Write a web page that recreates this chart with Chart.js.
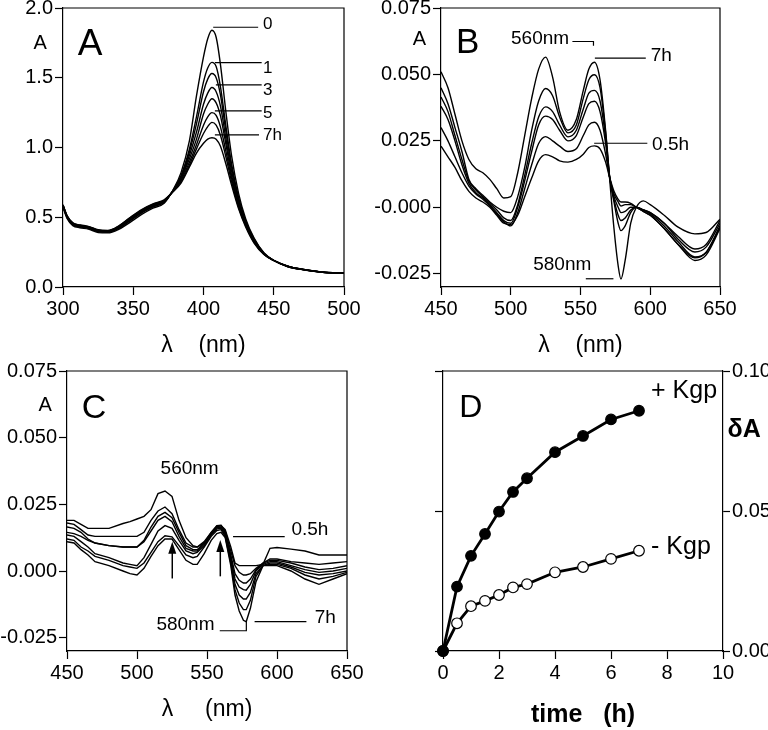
<!DOCTYPE html>
<html>
<head>
<meta charset="utf-8">
<script src="https://cdn.jsdelivr.net/npm/chart.js@4.4.1/dist/chart.umd.min.js"></script>
<style>
  html, body { margin: 0; padding: 0; background: #fff; }
  #wrap { position: relative; width: 768px; height: 730px; }
  #wrap canvas { position: absolute; left: 0; top: 0; }
</style>
</head>
<body>
<div id="wrap">
  <canvas id="panelA" width="768" height="730"></canvas>
  <canvas id="panelB" width="768" height="730"></canvas>
  <canvas id="panelC" width="768" height="730"></canvas>
  <canvas id="panelD" width="768" height="730"></canvas>
</div>
<script>
// ---- panel A : absorbance spectra, 0 .. 7 h ----
const wlA = [300, 303, 307, 312, 318, 325, 332, 340, 348, 356, 364, 372, 378, 384, 390, 395, 400, 403, 406, 409, 412, 416, 420, 425, 430, 436, 443, 450, 460, 470, 485, 500];
const specA0 = [0.57, 0.49, 0.44, 0.425, 0.415, 0.39, 0.388, 0.415, 0.465, 0.52, 0.565, 0.60, 0.69, 0.82, 1.05, 1.37, 1.65, 1.78, 1.84, 1.79, 1.60, 1.25, 0.94, 0.67, 0.49, 0.35, 0.245, 0.19, 0.145, 0.125, 0.105, 0.10];
const specA1 = [0.576, 0.496, 0.446, 0.431, 0.421, 0.396, 0.393, 0.422, 0.476, 0.531, 0.574, 0.608, 0.688, 0.80, 0.99, 1.22, 1.47, 1.57, 1.61, 1.58, 1.44, 1.15, 0.88, 0.64, 0.475, 0.345, 0.243, 0.19, 0.146, 0.126, 0.106, 0.10];
const specA2 = [0.578, 0.498, 0.448, 0.433, 0.423, 0.398, 0.395, 0.425, 0.479, 0.534, 0.577, 0.61, 0.686, 0.79, 0.97, 1.17, 1.40, 1.49, 1.53, 1.50, 1.38, 1.11, 0.86, 0.63, 0.47, 0.34, 0.241, 0.19, 0.147, 0.126, 0.106, 0.10];
const specA3 = [0.58, 0.50, 0.451, 0.435, 0.425, 0.40, 0.397, 0.428, 0.484, 0.538, 0.581, 0.613, 0.685, 0.78, 0.945, 1.11, 1.31, 1.39, 1.43, 1.40, 1.30, 1.06, 0.83, 0.615, 0.46, 0.335, 0.239, 0.19, 0.147, 0.126, 0.106, 0.10];
const specA4 = [0.583, 0.503, 0.453, 0.438, 0.428, 0.403, 0.40, 0.432, 0.49, 0.543, 0.585, 0.616, 0.684, 0.775, 0.92, 1.06, 1.24, 1.31, 1.35, 1.32, 1.23, 1.02, 0.80, 0.60, 0.455, 0.33, 0.237, 0.19, 0.148, 0.127, 0.106, 0.10];
const specA5 = [0.585, 0.505, 0.456, 0.441, 0.431, 0.406, 0.402, 0.435, 0.494, 0.548, 0.589, 0.62, 0.683, 0.765, 0.895, 1.02, 1.16, 1.22, 1.25, 1.23, 1.15, 0.97, 0.78, 0.585, 0.445, 0.325, 0.236, 0.19, 0.149, 0.127, 0.107, 0.10];
const specA6 = [0.588, 0.508, 0.458, 0.443, 0.433, 0.408, 0.404, 0.438, 0.497, 0.552, 0.592, 0.622, 0.682, 0.755, 0.875, 0.99, 1.10, 1.15, 1.18, 1.16, 1.09, 0.93, 0.755, 0.57, 0.44, 0.32, 0.235, 0.19, 0.15, 0.128, 0.107, 0.10];
const specA7 = [0.59, 0.51, 0.46, 0.445, 0.435, 0.41, 0.405, 0.44, 0.50, 0.555, 0.595, 0.625, 0.68, 0.745, 0.86, 0.96, 1.03, 1.06, 1.07, 1.06, 1.01, 0.88, 0.73, 0.56, 0.43, 0.315, 0.233, 0.19, 0.15, 0.128, 0.107, 0.10];
const xTicksA = [300, 350, 400, 450, 500];
const yTicksA = [0, 0.5, 1.0, 1.5, 2.0];

// ---- panel B : difference spectra ----
const wlB = [450, 455, 460, 465, 470, 475, 480, 485, 490, 495, 500, 505, 510, 515, 520, 525, 530, 535, 541, 547, 552, 556, 560, 564, 568, 571, 574, 577, 579, 582, 586, 590, 595, 600, 610, 620, 632, 640, 650];
const specB1 = [0.023, 0.019, 0.015, 0.010, 0.006, 0.0035, 0.002, 0.0, -0.003, -0.006, -0.0065, -0.003, 0.004, 0.011, 0.0175, 0.0198, 0.019, 0.0175, 0.017, 0.018, 0.020, 0.0225, 0.0231, 0.022, 0.017, 0.011, 0.006, 0.003, 0.002, 0.002, 0.0015, 0.0, -0.0015, -0.003, -0.008, -0.014, -0.019, -0.017, -0.0075];
const specB2 = [0.030, 0.025, 0.019, 0.013, 0.008, 0.005, 0.003, 0.0005, -0.0025, -0.0055, -0.007, -0.002, 0.007, 0.016, 0.024, 0.0266, 0.025, 0.023, 0.021, 0.022, 0.027, 0.031, 0.032, 0.029, 0.020, 0.011, 0.005, 0.002, 0.0005, 0.001, 0.001, 0.0, -0.0015, -0.003, -0.008, -0.014, -0.020, -0.018, -0.008];
const specB3 = [0.038, 0.033, 0.025, 0.016, 0.009, 0.0055, 0.0035, 0.001, -0.002, -0.005, -0.006, 0.0, 0.010, 0.021, 0.031, 0.0343, 0.033, 0.029, 0.025, 0.027, 0.034, 0.039, 0.0399, 0.036, 0.024, 0.011, 0.004, 0.0, -0.002, -0.0015, 0.0, 0.0, -0.001, -0.0025, -0.007, -0.013, -0.0187, -0.017, -0.007];
const specB4 = [0.0415, 0.036, 0.027, 0.018, 0.010, 0.0065, 0.004, 0.0015, -0.001, -0.004, -0.005, 0.001, 0.012, 0.024, 0.034, 0.0378, 0.036, 0.031, 0.0265, 0.029, 0.037, 0.043, 0.044, 0.040, 0.026, 0.011, 0.003, -0.003, -0.005, -0.004, -0.001, 0.0, -0.001, -0.002, -0.006, -0.012, -0.0168, -0.015, -0.006];
const specB5 = [0.045, 0.039, 0.030, 0.021, 0.0105, 0.007, 0.0045, 0.002, 0.0, -0.0015, -0.002, 0.004, 0.015, 0.029, 0.040, 0.0447, 0.042, 0.034, 0.028, 0.031, 0.041, 0.048, 0.0499, 0.045, 0.028, 0.011, 0.002, -0.006, -0.0088, -0.007, -0.002, 0.0, -0.001, -0.002, -0.006, -0.011, -0.0157, -0.014, -0.005];
const specB6 = [0.051, 0.045, 0.035, 0.025, 0.018, 0.0145, 0.013, 0.0105, 0.007, 0.0035, 0.004, 0.013, 0.027, 0.041, 0.052, 0.0565, 0.049, 0.036, 0.029, 0.033, 0.044, 0.052, 0.0546, 0.048, 0.029, 0.010, -0.008, -0.022, -0.027, -0.020, -0.006, 0.0, 0.0024, 0.001, -0.003, -0.0075, -0.010, -0.0095, -0.0045];
const xTicksB = [450, 500, 550, 600, 650];
const yTicksB = [-0.025, 0, 0.025, 0.05, 0.075];

// ---- panel C : difference spectra (second set) ----
const wlC = [450, 455, 460, 465, 470, 480, 490, 495, 500, 505, 510, 515, 520, 525, 530, 535, 540, 543, 548, 553, 557, 560, 563, 567, 570, 573, 576, 578, 581, 585, 590, 595, 600, 610, 620, 630, 640, 650];
const specC1 = [0.019, 0.019, 0.0175, 0.016, 0.016, 0.016, 0.0178, 0.0185, 0.0195, 0.0205, 0.023, 0.029, 0.030, 0.028, 0.019, 0.0125, 0.0095, 0.009, 0.0105, 0.014, 0.0165, 0.017, 0.0155, 0.009, 0.003, 0.002, 0.002, 0.002, 0.002, 0.002, 0.0025, 0.0085, 0.0088, 0.0082, 0.0075, 0.006, 0.006, 0.006];
const specC2 = [0.018, 0.0175, 0.0155, 0.0135, 0.013, 0.013, 0.013, 0.013, 0.013, 0.0145, 0.019, 0.0225, 0.024, 0.0215, 0.0155, 0.0105, 0.009, 0.009, 0.011, 0.0145, 0.017, 0.0172, 0.015, 0.0075, 0.002, -0.0005, -0.0015, -0.0015, -0.001, 0.001, 0.003, 0.0045, 0.0045, 0.0035, 0.003, 0.0025, 0.003, 0.0035];
const specC3 = [0.0165, 0.016, 0.0145, 0.012, 0.0105, 0.0095, 0.009, 0.009, 0.009, 0.0115, 0.0165, 0.0205, 0.022, 0.020, 0.0145, 0.0095, 0.008, 0.008, 0.0105, 0.0145, 0.0168, 0.017, 0.0145, 0.006, -0.001, -0.0035, -0.0045, -0.0045, -0.003, 0.0005, 0.003, 0.004, 0.004, 0.003, 0.0015, 0.0005, 0.001, 0.002];
const specC4 = [0.0145, 0.014, 0.013, 0.0115, 0.0105, 0.0095, 0.009, 0.009, 0.009, 0.011, 0.015, 0.019, 0.0205, 0.0185, 0.013, 0.0085, 0.0075, 0.0075, 0.010, 0.014, 0.0163, 0.0165, 0.014, 0.005, -0.003, -0.006, -0.007, -0.0072, -0.005, 0.0, 0.0025, 0.0035, 0.0035, 0.002, 0.0005, -0.0005, 0.0, 0.001];
const specC5 = [0.0135, 0.013, 0.011, 0.009, 0.0065, 0.005, 0.003, 0.0025, 0.002, 0.005, 0.010, 0.015, 0.017, 0.016, 0.0115, 0.0075, 0.0065, 0.007, 0.0095, 0.0135, 0.0158, 0.016, 0.0135, 0.004, -0.005, -0.009, -0.0105, -0.0105, -0.008, -0.001, 0.002, 0.003, 0.003, 0.0015, -0.0005, -0.0015, -0.001, 0.0];
const specC6 = [0.012, 0.0115, 0.009, 0.0075, 0.0055, 0.004, 0.002, 0.0015, 0.001, 0.003, 0.007, 0.011, 0.0132, 0.0128, 0.0095, 0.006, 0.005, 0.0055, 0.009, 0.013, 0.0152, 0.0155, 0.013, 0.003, -0.007, -0.012, -0.0145, -0.0145, -0.011, -0.002, 0.002, 0.0025, 0.0025, 0.001, -0.0015, -0.003, -0.002, -0.0005];
const specC7 = [0.011, 0.0105, 0.008, 0.006, 0.0035, 0.002, 0.0, -0.001, -0.0015, 0.001, 0.0055, 0.0095, 0.012, 0.012, 0.008, 0.004, 0.0025, 0.0025, 0.0065, 0.0115, 0.014, 0.0145, 0.0125, 0.002, -0.009, -0.015, -0.0185, -0.019, -0.014, -0.004, 0.002, 0.002, 0.002, 0.0, -0.003, -0.005, -0.003, -0.001];
const xTicksC = [450, 500, 550, 600, 650];
const yTicksC = [-0.025, 0, 0.025, 0.05, 0.075];

// ---- panel D : delta A vs time ----
const timeD = [0, 0.5, 1, 1.5, 2, 2.5, 3, 4, 5, 6, 7];
const plusKgp = [0, 0.0230, 0.0340, 0.0418, 0.0498, 0.0568, 0.0617, 0.0710, 0.0768, 0.0827, 0.0858];
const minusKgp = [0, 0.0099, 0.0160, 0.0179, 0.0200, 0.0227, 0.0239, 0.0281, 0.0300, 0.0329, 0.0358];
const xTicksD = [0, 2, 4, 6, 8, 10];
const yTicksD = [0, 0.05, 0.10];

const FONT = '"Liberation Sans", Arial, Helvetica, sans-serif';

function zeroPad(s) {
    s.paddingLeft = 0; s.paddingRight = 0; s.paddingTop = 0; s.paddingBottom = 0;
}

function tickGrid(len) {
    return { display: true, drawOnChartArea: false, drawTicks: true, tickLength: len, tickColor: '#000', tickWidth: 1.2 };
}

function xScale(min, max, vals, title, bold, titleSize, height) {
    return {
        type: 'linear', position: 'bottom', min: min, max: max,
        afterBuildTicks: s => { s.ticks = vals.map(v => ({ value: v })); },
        afterFit: s => { s.height = height; zeroPad(s); },
        ticks: { color: '#000', font: { family: FONT, size: 20 }, padding: 2, autoSkip: false, maxRotation: 0, callback: v => String(v) },
        grid: tickGrid(8),
        border: { display: true, color: '#000', width: 1.2 },
        title: { display: true, text: title, color: '#000', padding: 0,
                 font: { family: FONT, size: titleSize, weight: bold ? 'bold' : 'normal', lineHeight: 1.2 } }
    };
}

function yScale(min, max, vals, fmt, pos, width, showLabels, tickLen) {
    return {
        type: 'linear', position: pos, min: min, max: max,
        afterBuildTicks: s => { s.ticks = vals.map(v => ({ value: v })); },
        afterFit: s => { s.width = width; zeroPad(s); },
        ticks: { display: showLabels, color: '#000', font: { family: FONT, size: 20 }, padding: 2, autoSkip: false, callback: fmt },
        grid: tickGrid(tickLen),
        border: { display: true, color: '#000', width: 1.2 }
    };
}

function spectrum(wl, vals, smooth) {
    return {
        data: wl.map((w, i) => ({ x: w, y: vals[i] })),
        borderColor: '#000', borderWidth: 1.4, pointRadius: 0, fill: false,
        tension: smooth ? 0.4 : 0,
        cubicInterpolationMode: smooth ? 'monotone' : 'default'
    };
}

// draws frame, labels, leader lines and arrows in data coordinates
function notesPlugin(notes) {
    return {
        id: 'notes',
        afterDraw(chart) {
            const ctx = chart.ctx;
            const xs = chart.scales.x;
            const ys = chart.scales[notes.yAxis || 'y'];
            const ca = chart.chartArea;
            const px = v => xs.getPixelForValue(v);
            const py = v => ys.getPixelForValue(v);
            ctx.save();
            ctx.strokeStyle = '#000';
            ctx.fillStyle = '#000';
            ctx.lineWidth = 1.2;
            ctx.beginPath();
            ctx.moveTo(ca.left, ca.top);
            ctx.lineTo(ca.right, ca.top);
            if (notes.frameRight) ctx.lineTo(ca.right, ca.bottom);
            ctx.stroke();

            (notes.lines || []).forEach(l => {
                ctx.beginPath();
                ctx.moveTo(px(l[0]), py(l[1]));
                for (let i = 2; i < l.length; i += 2) ctx.lineTo(px(l[i]), py(l[i + 1]));
                ctx.stroke();
            });

            (notes.arrows || []).forEach(a => {
                const x = px(a[0]), y0 = py(a[1]), y1 = py(a[2]);
                ctx.lineWidth = 1.5;
                ctx.beginPath();
                ctx.moveTo(x, y0);
                ctx.lineTo(x, y1 + 10);
                ctx.stroke();
                ctx.beginPath();
                ctx.moveTo(x, y1);
                ctx.lineTo(x - 4, y1 + 12);
                ctx.lineTo(x + 4, y1 + 12);
                ctx.closePath();
                ctx.fill();
            });

            (notes.texts || []).forEach(t => {
                ctx.font = (t.bold ? 'bold ' : '') + t.size + 'px ' + FONT;
                ctx.textAlign = t.align || 'left';
                ctx.textBaseline = 'middle';
                ctx.fillText(t.text, px(t.x), py(t.y));
            });
            ctx.restore();
        }
    };
}

function baseOptions(padding, scales) {
    return {
        responsive: false, animation: false, devicePixelRatio: 1, events: [],
        layout: { padding: padding },
        plugins: { legend: { display: false }, tooltip: { enabled: false } },
        scales: scales
    };
}

// Panel A
new Chart(document.getElementById('panelA'), {
    type: 'line',
    data: { datasets: [specA0, specA1, specA2, specA3, specA4, specA5, specA6, specA7].map(s => spectrum(wlA, s, true)) },
    options: baseOptions({ left: 3, top: 8, right: 424, bottom: 370.2 }, {
        x: xScale(300, 500, xTicksA, 'λ    (nm)', false, 23, 72.8),
        y: yScale(0, 2.0, yTicksA, v => v.toFixed(1), 'left', 60, true, 8)
    }),
    plugins: [notesPlugin({
        frameRight: true,
        lines: [[406.9, 1.862, 438.9, 1.862], [408.1, 1.608, 441.4, 1.608], [408.8, 1.449, 441.4, 1.449],
                [408.1, 1.262, 441.4, 1.262], [408.1, 1.091, 439.5, 1.091]],
        texts: [
            { x: 283.8, y: 1.746, text: 'A', size: 20, align: 'center' },
            { x: 310.5, y: 1.735, text: 'A', size: 37 },
            { x: 442.3, y: 1.885, text: '0', size: 17 },
            { x: 442.3, y: 1.570, text: '1', size: 17 },
            { x: 442.3, y: 1.407, text: '3', size: 17 },
            { x: 442.3, y: 1.248, text: '5', size: 17 },
            { x: 442.3, y: 1.085, text: '7h', size: 17 }
        ]
    })]
});

// Panel B
new Chart(document.getElementById('panelB'), {
    type: 'line',
    data: { datasets: [specB1, specB2, specB3, specB4, specB5, specB6].map(s => spectrum(wlB, s, true)) },
    options: baseOptions({ left: 361, top: 8, right: 48, bottom: 370.2 }, {
        x: xScale(450, 650, xTicksB, 'λ    (nm)', false, 23, 72.8),
        y: yScale(-0.03, 0.075, yTicksB, v => (v === 0 ? '-0.000' : v.toFixed(3)), 'left', 80, true, 8)
    }),
    plugins: [notesPlugin({
        frameRight: true,
        lines: [[544.2, 0.0624, 559.3, 0.0624, 559.3, 0.0608], [560.3, 0.0561, 596.8, 0.0561],
                [559.8, 0.0241, 597.9, 0.0241], [553.8, -0.0269, 573.6, -0.0269]],
        texts: [
            { x: 434.5, y: 0.0631, text: 'A', size: 20, align: 'center' },
            { x: 460.7, y: 0.0618, text: 'B', size: 35 },
            { x: 521, y: 0.0633, text: '560nm', size: 19, align: 'center' },
            { x: 600.4, y: 0.0571, text: '7h', size: 19 },
            { x: 601.3, y: 0.0235, text: '0.5h', size: 19 },
            { x: 536.9, y: -0.0216, text: '580nm', size: 19, align: 'center' }
        ]
    })]
});

// Panel C
new Chart(document.getElementById('panelC'), {
    type: 'line',
    data: { datasets: [specC1, specC2, specC3, specC4, specC5, specC6, specC7].map(s => spectrum(wlC, s, false)) },
    options: baseOptions({ left: 0, top: 371, right: 421, bottom: 6.2 }, {
        x: xScale(450, 650, xTicksC, 'λ     (nm)', false, 23, 72.8),
        y: yScale(-0.03, 0.075, yTicksC, v => v.toFixed(3), 'left', 67, true, 8)
    }),
    plugins: [notesPlugin({
        frameRight: true,
        lines: [[568.6, 0.0129, 605.5, 0.0129], [584, -0.019, 621, -0.019],
                [559.1, -0.0224, 578.1, -0.0224, 578.1, -0.019]],
        arrows: [[525.2, -0.0028, 0.011], [559.5, -0.002, 0.0116]],
        texts: [
            { x: 434.4, y: 0.0622, text: 'A', size: 20, align: 'center' },
            { x: 460.5, y: 0.061, text: 'C', size: 34 },
            { x: 537.6, y: 0.0385, text: '560nm', size: 19, align: 'center' },
            { x: 534.6, y: -0.0202, text: '580nm', size: 19, align: 'center' },
            { x: 610.3, y: 0.0154, text: '0.5h', size: 19 },
            { x: 626.9, y: -0.0177, text: '7h', size: 19 }
        ]
    })]
});

// Panel D
new Chart(document.getElementById('panelD'), {
    type: 'line',
    data: {
        datasets: [
            { data: timeD.map((t, i) => ({ x: t, y: plusKgp[i] })), yAxisID: 'yR', borderColor: '#000', borderWidth: 2.8,
              pointRadius: 5.3, pointBackgroundColor: '#000', pointBorderColor: '#000', pointBorderWidth: 1.2, tension: 0, clip: false },
            { data: timeD.map((t, i) => ({ x: t, y: minusKgp[i] })), yAxisID: 'yR', borderColor: '#000', borderWidth: 2.8,
              pointRadius: 5.3, pointBackgroundColor: '#fff', pointBorderColor: '#000', pointBorderWidth: 1.2, tension: 0, clip: false }
        ]
    },
    options: baseOptions({ left: 433, top: 371, right: 0, bottom: 0 }, {
        x: xScale(0, 10, xTicksD, 'time   (h)', true, 25, 79),
        yL: yScale(0, 0.10, yTicksD, v => v.toFixed(2), 'left', 10, false, 8),
        yR: yScale(0, 0.10, yTicksD, v => v.toFixed(2), 'right', 45, true, 7)
    }),
    plugins: [notesPlugin({
        yAxis: 'yR',
        frameRight: false,
        texts: [
            { x: 0.58, y: 0.0869, text: 'D', size: 32 },
            { x: 7.43, y: 0.0929, text: '+ Kgp', size: 25 },
            { x: 7.43, y: 0.0371, text: '- Kgp', size: 25 },
            { x: 10.16, y: 0.0789, text: 'δA', size: 25, bold: true }
        ]
    })]
});
</script>
</body>
</html>
